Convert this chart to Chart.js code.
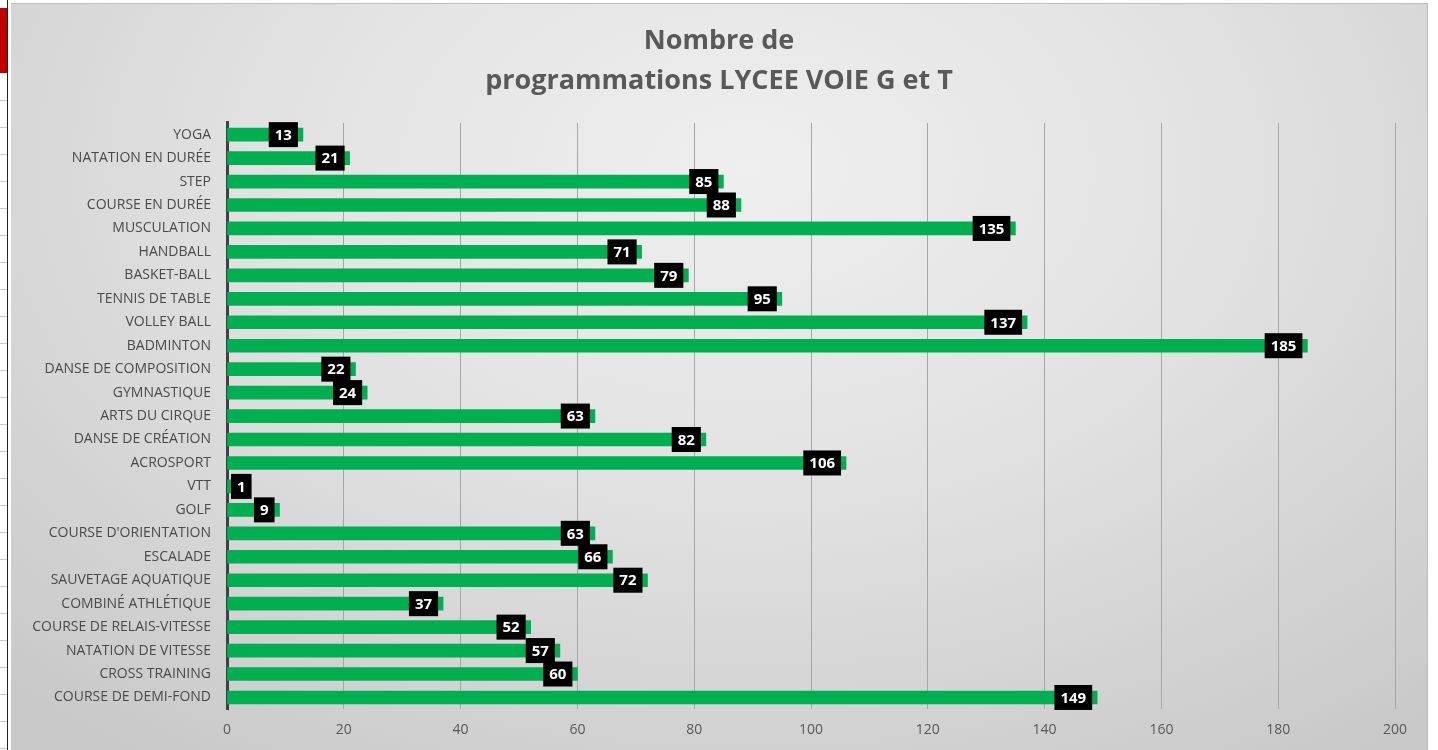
<!DOCTYPE html>
<html>
<head>
<meta charset="utf-8">
<script src="https://cdn.jsdelivr.net/npm/chart.js@4"></script>
<style>
  html, body { margin: 0; padding: 0; background: #fff; }
  body { width: 1438px; height: 750px; position: relative; overflow: hidden; }
  #sheet {
    position: absolute; left: 0; top: 0; width: 7px; height: 750px;
    border-right: 1px solid #222;
    background: repeating-linear-gradient(to bottom, #fff 0, #fff 26px, #c8c8c8 26px, #c8c8c8 27px);
    background-position: 0 74px;
  }
  #redBlock { position: absolute; left: 0; top: 8px; width: 7px; height: 65px; background: #c00000; }
  #panel {
    position: absolute; left: 11px; top: 3px; width: 1417px; height: 747px;
    border-top: 1px solid #bdbdbd; border-right: 1px solid #bdbdbd;
    box-sizing: border-box;
    background: radial-gradient(ellipse 75% 95% at 52% 22%, #efefef 0%, #e2e2e2 45%, #c9c9c9 100%);
  }
</style>
</head>
<body>
<div id="sheet"></div>
<div id="redBlock"></div>
<div id="panel"><canvas id="myBars"></canvas></div>
<script>
const categories = [
  "YOGA", "NATATION EN DURÉE", "STEP", "COURSE EN DURÉE", "MUSCULATION",
  "HANDBALL", "BASKET-BALL", "TENNIS DE TABLE", "VOLLEY BALL", "BADMINTON",
  "DANSE DE COMPOSITION", "GYMNASTIQUE", "ARTS DU CIRQUE", "DANSE DE CRÉATION", "ACROSPORT",
  "VTT", "GOLF", "COURSE D'ORIENTATION", "ESCALADE", "SAUVETAGE AQUATIQUE",
  "COMBINÉ ATHLÉTIQUE", "COURSE DE RELAIS-VITESSE", "NATATION DE VITESSE", "CROSS TRAINING", "COURSE DE DEMI-FOND"
]
const counts = [13, 21, 85, 88, 135, 71, 79, 95, 137, 185, 22, 24, 63, 82, 106, 1, 9, 63, 66, 72, 37, 52, 57, 60, 149]
const titleLines = ["Nombre de", "programmations LYCEE VOIE G et T"]
const xMax = 200
const xStep = 20

// title centred on the whole panel, not on the padded box
const centerTitle = {
  id: 'centerTitle',
  afterLayout(chart) {
    chart.titleBlock.left = 0
    chart.titleBlock.right = chart.width
  }
}

// black boxes with the value, near the end of each bar
const valueBoxes = {
  id: 'valueBoxes',
  afterDatasetsDraw(chart) {
    let ctx = chart.ctx
    let meta = chart.getDatasetMeta(0)
    let left = chart.chartArea.left
    ctx.save()
    ctx.font = 'bold 15px "Open Sans"'
    ctx.textAlign = 'center'
    ctx.textBaseline = 'middle'
    meta.data.forEach((bar, i) => {
      let txt = String(counts[i])
      let w = ctx.measureText(txt).width + 12
      let h = 25
      let x1 = bar.x - 5 - w
      if (x1 < left + 4) x1 = left + 4
      ctx.fillStyle = '#000'
      ctx.fillRect(x1, bar.y - h / 2, w, h)
      ctx.fillStyle = '#fff'
      ctx.fillText(txt, x1 + w / 2, bar.y + 1)
    })
    ctx.restore()
  }
}

let ctx = document.querySelector('#myBars').getContext('2d')
let myBarChart = new Chart(ctx, {
  type: 'bar',
  data: {
    labels: categories,
    datasets: [{
      data: counts,
      backgroundColor: '#00b050',
      barThickness: 13
    }]
  },
  plugins: [centerTitle, valueBoxes],
  options: {
    indexAxis: 'y',
    responsive: true,
    maintainAspectRatio: false,
    animation: false,
    layout: { padding: { left: 0, right: 32, top: 0, bottom: 0 } },
    plugins: {
      legend: { display: false },
      tooltip: { enabled: false },
      title: {
        display: true,
        text: titleLines,
        color: '#595959',
        font: { family: '"Open Sans"', size: 27, weight: 'bold', lineHeight: 1.48 },
        padding: { top: 17, bottom: 22 }
      }
    },
    scales: {
      x: {
        min: 0,
        max: xMax,
        ticks: { stepSize: xStep, color: '#595959', font: { family: '"Open Sans"', size: 14 }, padding: 12 },
        grid: { color: '#a6a6a6', drawTicks: false },
        border: { display: false }
      },
      y: {
        afterFit(scale) { scale.width = 216 },
        ticks: { color: '#4a4a4a', font: { family: '"Open Sans"', size: 14 }, padding: 16, autoSkip: false },
        grid: { display: false, drawTicks: false },
        border: { color: '#404040', width: 3 }
      }
    }
  }
})
</script>
</body>
</html>
